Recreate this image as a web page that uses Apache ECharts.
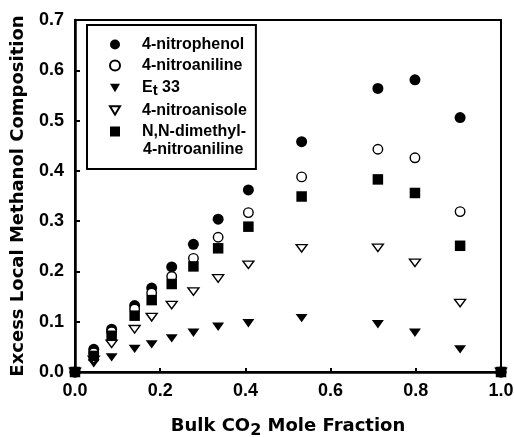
<!DOCTYPE html>
<html>
<head>
<meta charset="utf-8">
<script src="https://cdn.jsdelivr.net/npm/echarts@6/dist/echarts.min.js"></script>
<style>
  html, body { margin: 0; background: #fff; }
  #chart { width: 514px; height: 437px; }
</style>
</head>
<body>
<div id="chart"></div>
<script>
// bulk CO2 mole fraction (shared x for all probes)
const co2Fraction = [0, 0.044, 0.086, 0.140, 0.180, 0.227, 0.278, 0.336, 0.407, 0.532, 0.711, 0.798, 0.904, 1.0]
const nitrophenol = [0, 0.045, 0.085, 0.132, 0.167, 0.209, 0.254, 0.304, 0.362, 0.458, 0.564, 0.581, 0.506, 0]
const nitroaniline = [0, 0.038, 0.080, 0.125, 0.157, 0.190, 0.226, 0.268, 0.317, 0.388, 0.443, 0.426, 0.319, 0]
const et33 = [0, 0.017, 0.029, 0.046, 0.055, 0.067, 0.078, 0.090, 0.097, 0.107, 0.095, 0.078, 0.045, 0]
const nitroanisole = [0, 0.024, 0.056, 0.085, 0.109, 0.133, 0.160, 0.186, 0.213, 0.246, 0.247, 0.217, 0.137, 0]
const dimethylNitroaniline = [0, 0.032, 0.072, 0.112, 0.143, 0.175, 0.210, 0.246, 0.289, 0.349, 0.383, 0.356, 0.251, 0]

const xTicks = { min: 0, max: 1, interval: 0.2 }
const yTicks = { min: 0, max: 0.7, interval: 0.1 }

const FONT = "'Liberation Sans', Arial, sans-serif"
const TITLE_FONT = "'DejaVu Sans', sans-serif"
const DOWN_TRI = 'path://M0,0L12,0L6,10Z'

const pairs = ys => co2Fraction.map((x, i) => [x, ys[i]])

function scatter(name, ys, symbol, size, itemStyle) {
  return {
    name,
    type: 'scatter',
    data: pairs(ys),
    symbol,
    symbolSize: size,
    symbolKeepAspect: true,
    clip: false,
    itemStyle: Object.assign({ color: '#000', opacity: 1 }, itemStyle || {}),
  }
}

const hollow = { color: '#fff', borderColor: '#000', borderWidth: 1.4 }

const chart = echarts.init(document.getElementById('chart'))

chart.setOption({
  animation: false,
  backgroundColor: '#fff',
  textStyle: { fontFamily: FONT },
  grid: {
    left: 75, right: 13, top: 20, bottom: 65,
    outerBoundsMode: 'none',
    containLabel: false,
    show: true, borderColor: '#000', borderWidth: 2,
  },
  legend: {
    orient: 'vertical',
    left: 87, top: 25,
    borderColor: '#000', borderWidth: 2, borderRadius: 0,
    padding: [11, 9, 29, 22],
    itemWidth: 10, itemHeight: 10, itemGap: 4,
    textStyle: {
      fontFamily: FONT, fontWeight: 'bold', fontSize: 16, color: '#000',
      lineHeight: 17,
      padding: [0, 0, 0, 17],
      rich: {
        sub: { fontFamily: FONT, fontWeight: 'bold', fontSize: 15, color: '#000', lineHeight: 17, padding: [5, 0, 0, 0] },
      },
    },
    formatter(name) {
      if (name === 'Et 33') return 'E{sub|t} 33'
      if (name === 'N,N-dimethyl-4-nitroaniline') return 'N,N-dimethyl-'
      return name
    },
  },
  graphic: [{
    type: 'text', left: 143, top: 142,
    style: { text: '4-nitroaniline', font: 'bold 16px ' + FONT, fill: '#000' },
  }],
  xAxis: {
    type: 'value', ...xTicks,
    name: 'Bulk CO{sub|2} Mole Fraction',
    nameLocation: 'middle', nameGap: 42,
    nameTextStyle: {
      fontFamily: TITLE_FONT, fontWeight: 'bold', fontSize: 18, color: '#000',
      rich: {
        sub: { fontFamily: TITLE_FONT, fontWeight: 'bold', fontSize: 16, color: '#000', padding: [9, 0, 0, 0] },
      },
    },
    axisLine: { lineStyle: { color: '#000', width: 2.5 } },
    axisTick: { inside: true, length: 4, lineStyle: { color: '#000', width: 2 } },
    axisLabel: {
      color: '#000', fontFamily: FONT, fontWeight: 'bold', fontSize: 18, margin: 10,
      formatter: v => v.toFixed(1),
    },
    splitLine: { show: false },
  },
  yAxis: {
    type: 'value', ...yTicks,
    name: 'Excess Local Methanol Composition',
    nameLocation: 'middle', nameGap: 48,
    nameTextStyle: { fontFamily: TITLE_FONT, fontWeight: 'bold', fontSize: 18, color: '#000' },
    axisLine: { lineStyle: { color: '#000', width: 2.5 } },
    axisTick: { inside: true, length: 5, lineStyle: { color: '#000', width: 2 } },
    axisLabel: {
      color: '#000', fontFamily: FONT, fontWeight: 'bold', fontSize: 18, margin: 11,
      formatter: v => v.toFixed(1),
    },
    splitLine: { show: false },
  },
  series: [
    scatter('4-nitrophenol', nitrophenol, 'circle', 11),
    scatter('4-nitroaniline', nitroaniline, 'circle', 9.5, hollow),
    scatter('Et 33', et33, DOWN_TRI, [12, 10]),
    scatter('4-nitroanisole', nitroanisole, DOWN_TRI, [11, 9], hollow),
    scatter('N,N-dimethyl-4-nitroaniline', dimethylNitroaniline, 'rect', 10.5),
  ],
})
</script>
</body>
</html>
